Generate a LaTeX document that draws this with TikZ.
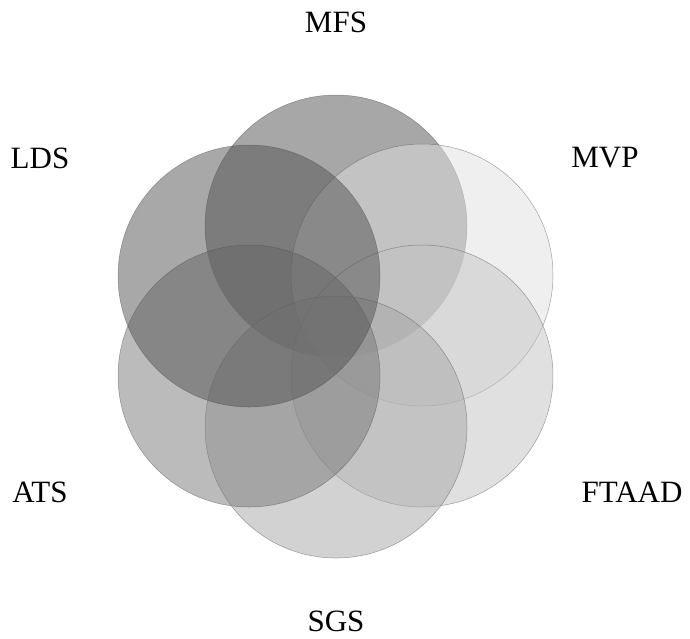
\documentclass[tikz,border=0pt]{standalone}
\usepackage{fontspec}
\setmainfont{Liberation Serif}
\usepackage{tikz}
\usetikzlibrary{positioning}

\begin{document}
\begin{tikzpicture}[
    x=1pt, y=-1pt,
    set/.style={circle, draw=black!70, line width=0.5pt, minimum size=262pt, inner sep=0pt, fill opacity=0.5, draw opacity=0.5},
    setlabel/.style={font=\fontsize{31}{36}\selectfont, inner sep=0pt}
]
\useasboundingbox (0,0) rectangle (690,638);

% Sets, clockwise from the top
\node[set, fill=black!69] (mfs) at (336,226) {};
\node[set, fill=black!12] (mvp) at (422,275) {};
\node[set, fill=black!24] (ftaad) at (422,376) {};
\node[set, fill=black!35] (sgs) at (336,427) {};
\node[set, fill=black!53] (ats) at (249,376) {};
\node[set, fill=black!68] (lds) at (249,276) {};

% Labels
\node[setlabel] (mfslabel) at (336,22) {MFS};
\node[setlabel] (ldslabel) at (40,158) {LDS};
\node[setlabel] (mvplabel) at (605,158) {MVP};
\node[setlabel] (atslabel) at (40,492) {ATS};
\node[setlabel] (ftaadlabel) at (632,492) {FTAAD};
\node[setlabel] (sgslabel) at (336,621) {SGS};

\end{tikzpicture}
\end{document}
